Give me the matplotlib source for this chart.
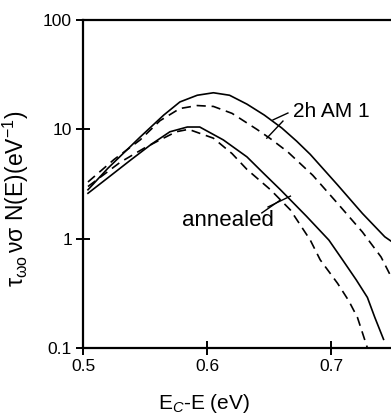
import matplotlib as mplt
mplt.use("Agg")
import matplotlib.pyplot as plt

plt.rcParams.update({
    'font.family': ['Liberation Sans', 'DejaVu Sans'],
    'font.size': 12.5,
    'mathtext.fontset': 'custom',
    'mathtext.rm': 'Liberation Sans',
    'mathtext.it': 'Liberation Sans:italic',
    'mathtext.sf': 'Liberation Sans',
})

# Energy E_C - E (eV) and tau*nu*sigma*N(E) (eV^-1)
am_solid_x = [0.504, 0.520, 0.546, 0.565, 0.578, 0.592, 0.605, 0.618, 0.632, 0.646, 0.660, 0.672, 0.683, 0.705, 0.725, 0.743, 0.748]
am_solid_y = [2.8, 4.4, 8.5, 13.5, 17.8, 20.5, 21.6, 20.5, 17.0, 13.5, 10.3, 7.8, 5.9, 3.1, 1.7, 1.04, 0.95]

am_dash_x = [0.504, 0.525, 0.546, 0.562, 0.578, 0.592, 0.605, 0.620, 0.640, 0.651, 0.665, 0.685, 0.705, 0.725, 0.740, 0.748]
am_dash_y = [3.3, 5.3, 8.0, 12.0, 15.5, 16.5, 16.2, 14.0, 10.0, 8.2, 6.2, 3.8, 2.1, 1.15, 0.68, 0.45]

ann_solid_x = [0.504, 0.520, 0.538, 0.555, 0.570, 0.584, 0.594, 0.613, 0.632, 0.645, 0.659, 0.680, 0.698, 0.709, 0.720, 0.729, 0.735, 0.742]
ann_solid_y = [2.6, 3.6, 5.2, 7.3, 9.5, 10.5, 10.5, 8.0, 5.6, 4.0, 2.8, 1.6, 0.97, 0.64, 0.42, 0.29, 0.19, 0.12]

ann_dash_x = [0.504, 0.530, 0.550, 0.562, 0.575, 0.585, 0.605, 0.620, 0.632, 0.651, 0.667, 0.683, 0.691, 0.705, 0.714, 0.721, 0.729]
ann_dash_y = [3.0, 5.0, 6.8, 8.0, 9.5, 10.0, 8.3, 6.0, 4.3, 2.8, 1.83, 0.97, 0.64, 0.39, 0.27, 0.19, 0.10]

x_ticks = [0.5, 0.6, 0.7]
x_tick_labels = ['0.5', '0.6', '0.7']
y_ticks = [0.1, 1, 10, 100]
y_tick_labels = ['0.1', '1', '10', '100']

fig = plt.figure(figsize=(3.91, 4.16), dpi=100)
ax = fig.add_axes([83 / 391, 1 - 348 / 416, 1 - 83 / 391, (348 - 20) / 416])

lw = 1.2
dash = (0, (5.5, 3.5))
ax.plot(am_solid_x, am_solid_y, color='black', lw=lw)
ax.plot(am_dash_x, am_dash_y, color='black', lw=lw, linestyle=dash)
ax.plot(ann_solid_x, ann_solid_y, color='black', lw=lw)
ax.plot(ann_dash_x, ann_dash_y, color='black', lw=lw, linestyle=dash)

ax.set_yscale('log')
ax.set_xlim(0.5, 0.748)
ax.set_ylim(0.1, 100)
ax.set_xticks(x_ticks, x_tick_labels)
ax.set_yticks(y_ticks, y_tick_labels)
ax.minorticks_off()
ax.tick_params(direction='inout', length=10, width=1.4, pad=3)
ax.spines['right'].set_visible(False)
for side in ('left', 'top', 'bottom'):
    ax.spines[side].set_linewidth(1.6)

ax.set_xlabel('E$_C$-E (eV)', fontsize=15)
ax.xaxis.set_label_coords(0.393, -0.135)
ax.set_ylabel(r'$\mathrm{\tau_{\omega o}\,\nu\sigma}$ N(E)(eV$^{-1}$)', fontsize=16.5)
ax.yaxis.set_label_coords(-0.17, 0.455)

# labels with leader strokes
ax.text(0.669, 14.6, '2h AM 1', fontsize=15, va='center', ha='left')
ax.plot([0.665, 0.653], [14.1, 12.2], color='black', lw=1.0)
ax.plot([0.661, 0.648], [11.9, 8.3], color='black', lw=1.0)

ax.text(0.580, 1.48, 'annealed', fontsize=16, va='center', ha='left')
ax.plot([0.644, 0.659], [1.72, 2.26], color='black', lw=1.0)
ax.plot([0.649, 0.667], [1.95, 2.45], color='black', lw=1.0)

fig.savefig('out.png', dpi=100)
